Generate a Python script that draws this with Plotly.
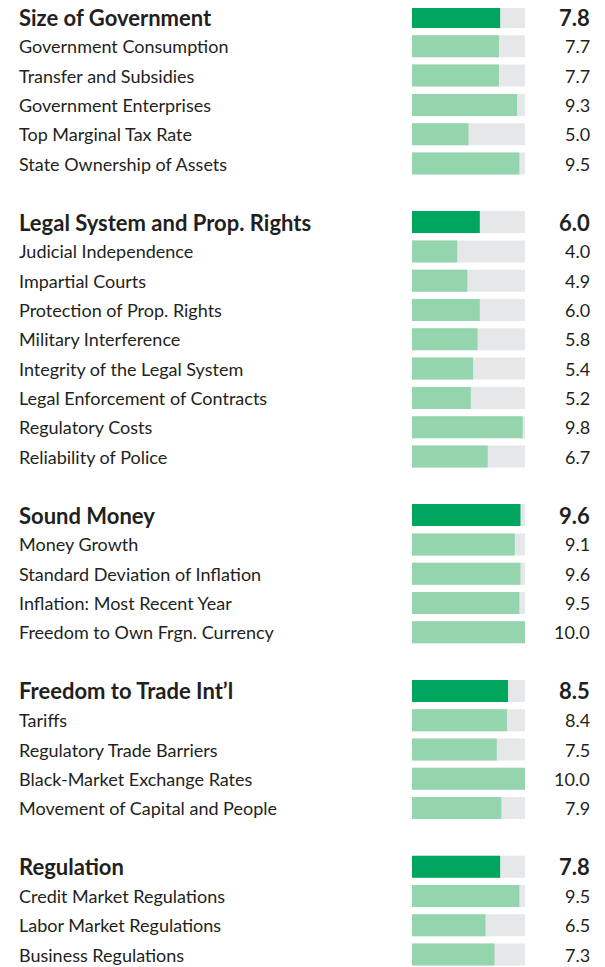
import plotly.graph_objects as go

group_names = ["Size of Government", "Legal System and Prop. Rights", "Sound Money",
               "Freedom to Trade Int\u2019l", "Regulation"]
group_values = [7.8, 6.0, 9.6, 8.5, 7.8]

sub_names = [
    ["Government Consumption", "Transfer and Subsidies", "Government Enterprises",
     "Top Marginal Tax Rate", "State Ownership of Assets"],
    ["Judicial Independence", "Impartial Courts", "Protection of Prop. Rights",
     "Military Interference", "Integrity of the Legal System",
     "Legal Enforcement of Contracts", "Regulatory Costs", "Reliability of Police"],
    ["Money Growth", "Standard Deviation of Inflation", "Inflation: Most Recent Year",
     "Freedom to Own Frgn. Currency"],
    ["Tariffs", "Regulatory Trade Barriers", "Black-Market Exchange Rates",
     "Movement of Capital and People"],
    ["Credit Market Regulations", "Labor Market Regulations", "Business Regulations"],
]
sub_values = [
    [7.7, 7.7, 9.3, 5.0, 9.5],
    [4.0, 4.9, 6.0, 5.8, 5.4, 5.2, 9.8, 6.7],
    [9.1, 9.6, 9.5, 10.0],
    [8.4, 7.5, 10.0, 7.9],
    [9.5, 6.5, 7.3],
]
max_score = 10

rows = []  # (pos, label, value, is_header)
pos = 0
for g, (gn, gv) in enumerate(zip(group_names, group_values)):
    rows.append((pos, gn, gv, True))
    pos += 1
    for sn, sv in zip(sub_names[g], sub_values[g]):
        rows.append((pos, sn, sv, False))
        pos += 1
    pos += 1  # blank gap row

OFF = 8  # page body margin
W, H = 605 - OFF, 967 - OFF
step = 29.3
first_center = 17 - OFF
y_top = -first_center / step
y_bot = (H - first_center) / step

DARK = "#00a65d"
LIGHT = "#95d5ae"
GRAY = "#e6e7e8"
TEXT = "#231f20"
FONT = "Lato"

fig = go.Figure()
ys = [r[0] for r in rows]
fig.add_trace(go.Bar(x=[max_score] * len(rows), y=ys, orientation="h",
                     marker=dict(color=GRAY, line=dict(width=0)), width=0.75,
                     hoverinfo="skip", showlegend=False))
fig.add_trace(go.Bar(x=[r[2] for r in rows], y=ys, orientation="h",
                     marker=dict(color=[DARK if r[3] else LIGHT for r in rows],
                                 line=dict(width=0)),
                     width=0.75, showlegend=False))

annotations = []
for p, label, val, hdr in rows:
    annotations.append(dict(
        x=(17 - OFF) / W, xref="paper", y=p, yref="y", xanchor="left", yanchor="middle",
        text=f"<b>{label}</b>" if hdr else label, showarrow=False,
        font=dict(family=FONT, size=22 if hdr else 18, color=TEXT)))
    annotations.append(dict(
        x=(592 - OFF) / W, xref="paper", y=p, yref="y", xanchor="right", yanchor="middle",
        text=f"<b>{val:.1f}</b>" if hdr else f"{val:.1f}", showarrow=False,
        font=dict(family=FONT, size=22 if hdr else 18, color=TEXT)))

fig.update_layout(
    width=W, height=H, barmode="overlay",
    margin=dict(l=0, r=0, t=0, b=0),
    paper_bgcolor="white", plot_bgcolor="white",
    xaxis=dict(domain=[(412 - OFF) / W, (525 - OFF) / W], range=[0, max_score],
               visible=False, fixedrange=True),
    yaxis=dict(range=[y_bot, y_top], visible=False, fixedrange=True),
    annotations=annotations,
)

fig.write_html("out.html")
